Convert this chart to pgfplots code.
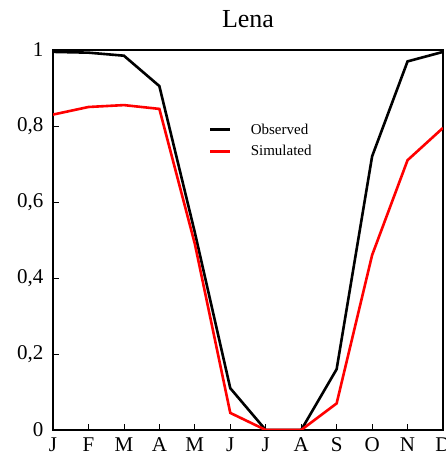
\documentclass[border=0pt]{standalone}
\usepackage{pgfplots}
\pgfplotsset{compat=1.18}
\usepackage{fontspec}
\setmainfont{Liberation Serif}
\begin{document}
\begin{tikzpicture}
\begin{axis}[
  scale only axis, width=390pt, height=380pt,
  xmin=0, xmax=11, ymin=0, ymax=1,
  xtick={0,...,11},
  xticklabels={J,F,M,A,M,J,J,A,S,O,N,D},
  ytick={0,0.2,0.4,0.6,0.8,1},
  yticklabels={0,{0,2},{0,4},{0,6},{0,8},1},
  tick style={black, line width=0.8pt},
  tick align=inside, major tick length=6pt,
  xtick pos=bottom, ytick pos=left,
  axis line style={line width=2.6pt},
  ticklabel style={font=\fontsize{21}{21}\selectfont},
  yticklabel style={xshift=-6pt},
  xticklabel style={yshift=-4.5pt},
  title={Lena}, title style={font=\fontsize{26}{26}\selectfont, at={(0.5,1)}, anchor=base, yshift=16pt},
  legend style={draw=none, fill=none, at={(0.40,0.812)}, anchor=north west, inner sep=0pt, font=\fontsize{15}{15}\selectfont, row sep=6pt},
  legend cell align=left,
  legend image code/.code={\draw[#1, line width=2.6pt] (0pt,0pt) -- (20pt,0pt); \path (37pt,0pt);},
]
\addplot[black, line width=2.6pt] coordinates {
(0,0.995) (1,0.993) (2,0.985) (3,0.905) (4,0.52) (5,0.11) (6,0) (7,0) (8,0.16) (9,0.72) (10,0.97) (11,0.995)};
\addlegendentry{Observed}
\addplot[red, line width=2.6pt] coordinates {
(0,0.83) (1,0.85) (2,0.855) (3,0.845) (4,0.49) (5,0.045) (6,0) (7,0) (8,0.07) (9,0.46) (10,0.71) (11,0.795)};
\addlegendentry{Simulated}
\end{axis}
\pgfresetboundingbox
\path[use as bounding box] ([xshift=-53pt,yshift=-25pt]current axis.south west) rectangle ([xshift=2pt,yshift=50pt]current axis.north east);
\end{tikzpicture}
\end{document}
